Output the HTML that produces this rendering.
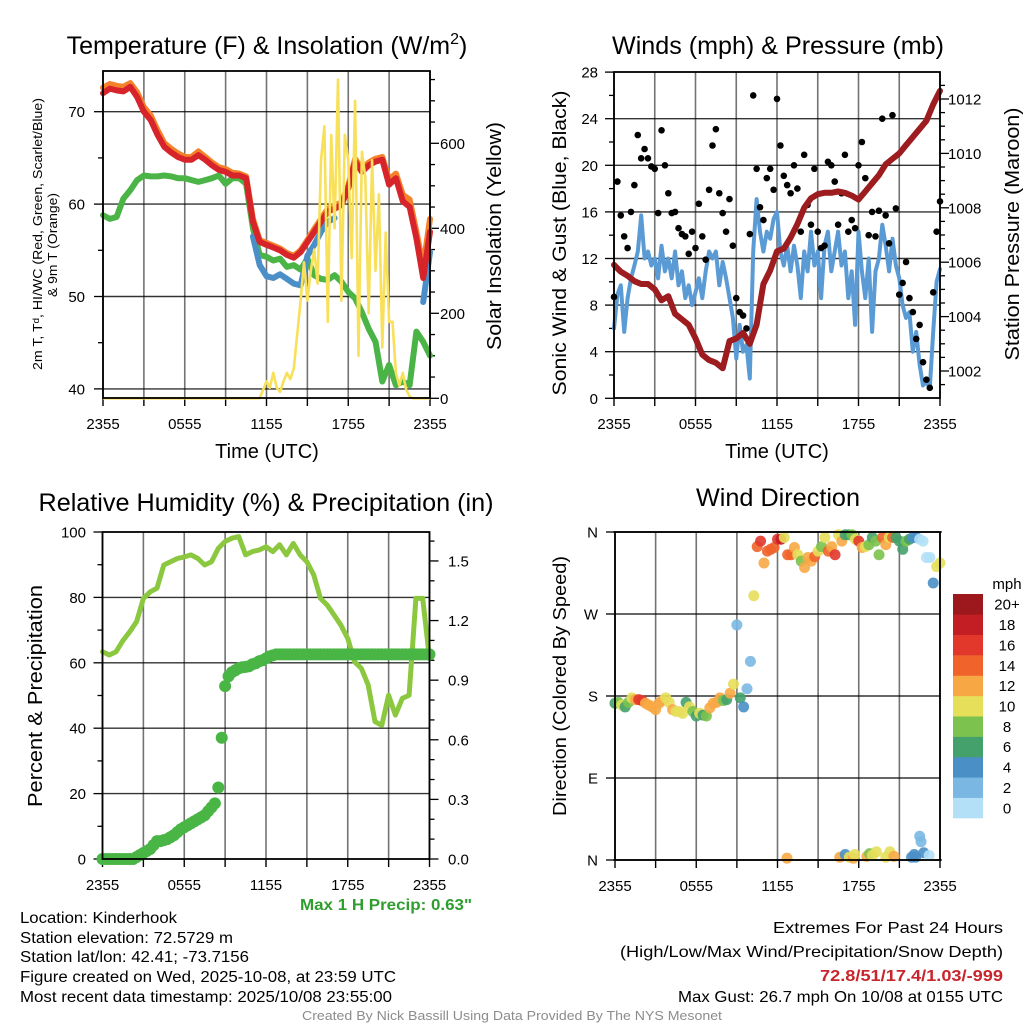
<!DOCTYPE html>
<html><head><meta charset="utf-8"><title>Kinderhook Meteogram</title>
<style>
html,body{margin:0;padding:0;background:#fff;}
svg{display:block;font-family:"Liberation Sans",Arial,sans-serif;}
</style></head>
<body>
<svg id="fig" width="1024" height="1024" viewBox="0 0 1024 1024" xmlns="http://www.w3.org/2000/svg">
<rect x="0" y="0" width="1024" height="1024" fill="#fff"/>
</svg>
<script>
// ===== DATA (half-hourly = 49 pts, quarter-hourly = 97 pts, hours 0..24 from 2355 UTC) =====
const xTickLabels = ["2355","0555","1155","1755","2355"];
const tempRed = [72.0,72.5,72.3,72.2,72.7,71.6,70.0,69.1,67.5,66.2,65.6,65.1,64.8,64.8,65.3,64.8,64.2,63.7,63.5,63.1,63.1,62.8,58.1,55.9,55.6,55.3,55.0,54.5,54.2,54.8,55.9,57.0,58.1,59.2,59.5,59.9,61.7,64.6,63.5,64.2,64.6,64.8,62.1,62.8,60.3,59.7,56.3,52.0,57.0];
const tempOrange = [72.6,73.0,72.8,72.7,73.1,72.1,70.5,69.6,68.0,66.6,66.0,65.5,65.1,65.1,65.7,65.1,64.5,64.0,63.8,63.4,63.3,63.0,58.4,56.1,55.8,55.5,55.2,54.7,54.4,55.0,56.1,57.3,58.4,59.5,59.8,60.2,62.0,64.9,63.8,64.5,64.9,65.1,62.6,63.3,61.0,60.5,57.0,53.2,58.4];
const dewGreen = [58.8,58.4,58.6,60.6,61.5,62.6,63.1,63.0,63.0,63.1,63.0,62.8,62.8,62.6,62.4,62.6,62.8,63.1,62.2,62.8,62.8,62.2,57.4,54.5,54.3,53.9,54.1,53.2,53.4,52.9,54.1,52.3,51.9,51.8,52.3,51.6,50.5,49.8,48.3,46.5,45.1,40.8,42.6,40.4,40.8,40.4,46.2,45.1,43.6];
const windChillBlue = [null,null,null,null,null,null,null,null,null,null,null,null,null,null,null,null,null,null,null,null,null,null,56.5,53.4,52.2,52.0,52.4,51.9,51.4,51.2,54.4,55.6,57.0,58.1,58.5,null,null,null,null,null,null,null,null,null,null,null,null,49.4,54.8];
const solar = [0,0,0,0,0,0,0,0,0,0,0,0,0,0,0,0,0,0,0,0,0,0,0,0,0,0,0,0,0,0,0,0,0,0,0,0,0,0,0,0,0,0,0,0,0,0,0,20,40,25,60,25,15,40,60,45,70,150,230,320,230,300,350,270,560,640,180,620,400,750,230,620,560,330,700,100,580,520,200,560,300,480,120,390,180,180,60,30,60,20,5,0,0,0,0,0,0];
const windSpeed = [6.0,8.9,9.7,5.7,8.6,10.3,11.4,12.6,15.7,12.0,12.6,11.4,12.0,10.3,13.1,10.9,12.0,10.3,12.6,9.7,10.9,8.6,9.7,8.0,9.1,10.3,8.6,10.9,12.6,12.0,12.6,9.7,11.7,10.3,8.6,6.9,3.4,6.3,4.0,4.6,1.7,12.6,17.1,14.3,12.6,14.3,13.7,15.4,16.0,12.6,11.4,13.1,10.9,13.1,11.4,8.6,12.6,10.9,14.3,11.4,12.6,8.6,13.1,14.3,10.9,12.6,14.3,11.4,12.6,8.6,10.9,6.3,14.3,10.9,8.6,12.0,5.7,10.9,12.0,14.9,13.1,10.9,13.7,11.4,10.3,8.0,6.9,7.4,4.0,5.7,2.9,1.1,1.4,0.9,5.7,10.0,11.1];
const gust = [8.7,18.6,15.7,13.9,12.9,16.0,18.3,22.6,20.6,21.4,20.6,19.9,19.7,15.9,23.0,20.0,17.6,15.9,16.0,14.6,14.1,13.9,12.4,14.3,12.9,16.7,13.9,11.9,17.9,21.7,23.1,17.6,15.9,14.3,17.1,13.1,8.6,7.4,7.1,6.0,14.1,26.0,19.7,16.4,15.3,18.9,19.7,17.9,25.7,21.7,19.1,18.3,17.6,20.0,18.0,14.3,20.9,16.6,14.9,19.7,14.3,12.9,13.1,20.3,20.0,18.6,14.9,17.6,20.9,14.3,15.3,14.6,20.0,22.0,18.9,14.0,16.0,13.9,16.1,24.0,15.7,13.3,24.3,16.3,8.9,9.9,11.7,8.6,7.4,5.1,6.3,3.1,1.6,0.9,9.1,14.3,16.9];
const pressure = [1005.9,1005.65,1005.5,1005.3,1005.2,1005.2,1005.0,1004.6,1004.75,1004.1,1003.9,1003.7,1003.2,1002.6,1002.4,1002.3,1002.1,1003.1,1003.2,1003.4,1003.0,1003.7,1005.2,1005.7,1006.4,1006.5,1006.9,1007.4,1008.0,1008.35,1008.5,1008.55,1008.55,1008.6,1008.55,1008.45,1008.3,1008.6,1008.9,1009.2,1009.6,1009.8,1010.0,1010.3,1010.6,1010.9,1011.2,1011.8,1012.3];
const rh = [63.4,62.4,63.4,66.8,69.5,72.6,79.7,81.7,82.8,89.9,90.9,91.9,92.4,93.0,91.9,89.9,90.9,95.0,97.1,98.1,98.6,93.0,94.0,94.5,95.5,94.0,96.1,93.0,96.5,93.0,90.9,86.9,79.7,77.6,74.6,71.5,67.4,60.3,58.3,53.2,42.0,40.9,50.1,44.0,49.1,50.1,79.7,79.7,61.3];
const precip = [0,0,0,0,0,0,0,0,0,0,0.01,0.02,0.03,0.04,0.05,0.07,0.09,0.09,0.095,0.1,0.11,0.12,0.135,0.15,0.16,0.17,0.18,0.19,0.2,0.21,0.22,0.24,0.26,0.28,0.36,0.61,0.87,0.92,0.94,0.95,0.96,0.965,0.967,0.97,0.98,0.985,0.995,1.0,1.01,1.02,1.025,1.03,1.03,1.03,1.03,1.03,1.03,1.03,1.03,1.03,1.03,1.03,1.03,1.03,1.03,1.03,1.03,1.03,1.03,1.03,1.03,1.03,1.03,1.03,1.03,1.03,1.03,1.03,1.03,1.03,1.03,1.03,1.03,1.03,1.03,1.03,1.03,1.03,1.03,1.03,1.03,1.03,1.03,1.03,1.03,1.03,1.03];
const windDir = [172,173,170,168,173,178,176,176,175,172,170,168,165,172,175,178,173,165,163,163,161,173,168,163,158,161,159,158,167,172,173,178,175,176,183,193,258,178,168,188,218,290,344,350,326,339,341,343,352,352,354,335,335,343,335,328,321,332,328,333,339,344,354,339,344,335,357,350,357,357,357,352,350,343,344,346,354,350,335,354,346,354,354,354,350,341,350,352,354,354,352,350,332,332,304,322,326];
const windDirSpeed = [6,8,10,6,8,10,12,16,16,12,12,12,12,12,12,10,10,12,10,10,10,6,10,8,6,10,6,8,12,12,12,12,8,6,12,10,2,6,4,2,2,10,14,16,12,14,14,14,16,18,10,14,14,12,10,8,12,12,12,14,10,8,10,14,12,16,10,12,6,6,8,10,16,12,10,8,6,8,8,14,12,10,14,6,6,6,8,6,4,4,0,0,0,0,4,10,10];
const extraDirHour = [12.7,16.6,17.0,17.3,17.6,17.7,18.6,18.8,19.0,19.3,20.0,20.3,20.6,21.9,22.1,22.2,22.5,22.6,22.8,23.2];
const extraDir = [2,3,6,3,2,6,4,7,5,9,3,9,4,3,6,3,26,20,8,5];
const extraDirSpeed = [12,12,4,10,12,10,12,8,10,10,10,10,12,4,4,4,2,2,4,0];
const cbarLabels = ["0","2","4","6","8","10","12","14","16","18","20+"];
const cbarColors = ["#b3e0f7","#7ab8e3","#4a8fc6","#45a16c","#7bc24e","#e6df5a","#f7a845","#f0642b","#e2382c","#c41e25","#9c181c"];

// ===== helpers =====
const NS="http://www.w3.org/2000/svg";
const svg=document.getElementById('fig');
function mk(tag,attrs,parent){const e=document.createElementNS(NS,tag);for(const k in attrs)e.setAttribute(k,attrs[k]);(parent||svg).appendChild(e);return e;}
function txt(s,attrs,parent){const e=mk('text',attrs,parent);e.textContent=s;return e;}
function hOf(i,n){return i*24/(n-1);}
function pathFrom(arr,xf,yf,n){let d='',pen=false;arr.forEach((v,i)=>{if(v===null){pen=false;return;}const x=xf(hOf(i,n)),y=yf(v);d+=(pen?'L':'M')+x.toFixed(1)+' '+y.toFixed(1);pen=true;});return d;}
function colorFor(s){let idx=Math.min(10,Math.floor(s/2+0.0001));return cbarColors[idx];}

function frame(g,x0,y0,x1,y1,xf){
  for(let h=0;h<=24;h+=3){
    const x=xf(h);
    const gl=mk('line',{x1:x,y1:y0,x2:x,y2:y1,stroke:'#000','stroke-width':1.6,'stroke-opacity':0.55},g);
    
    
    const tk=mk('line',{x1:x,y1:y1,x2:x,y2:y1+8,stroke:'#000','stroke-width':1.4},g);
    
    
    if(h%6===0){
      const lb=txt(xTickLabels[h/6],{x:x,y:y1+31,'font-size':15,'text-anchor':'middle',fill:'#000'},g);
      
      
    }
  }
}
function border(g,x0,y0,x1,y1){
  const r=mk('rect',{x:x0,y:y0,width:x1-x0,height:y1-y0,fill:'none',stroke:'#000','stroke-width':1.8},g);
  
  
}
function hgrid(g,x0,x1,y){
  const l=mk('line',{x1:x0,y1:y,x2:x1,y2:y,stroke:'#000','stroke-width':1.4,'stroke-opacity':0.8},g);
  
  
}
function ytick(g,x,y,len,label,anchorX,anchor){
  const t=mk('line',{x1:x,y1:y,x2:x+len,y2:y,stroke:'#000','stroke-width':1.3},g);
  
  
  if(label!==null){
    const lb=txt(label,{x:anchorX,y:y+5.5,'font-size':15,'text-anchor':anchor,fill:'#000'},g);
    
    
  }
}
function vlabel(g,s,x,y,size,len,name){
  const t=txt(s,{x:x,y:y,'font-size':size,'text-anchor':'middle',transform:'rotate(-90 '+x+' '+y+')',fill:'#000',textLength:len,lengthAdjust:'spacingAndGlyphs'},g);
  
  
  return t;
}
function title(g,s,x,y,len,name){
  const t=txt(s,{x:x,y:y,'font-size':25,'text-anchor':'middle',fill:'#000',textLength:len,lengthAdjust:'spacingAndGlyphs'},g);
  
  
  return t;
}

// ===== PANEL 1: Temperature & Insolation =====
(function(){
  const g=mk('g',{});
  
  
  const X0=103,X1=430,Y0=71,Y1=398;
  const xf=h=>X0+h*(X1-X0)/24;
  const yT=t=>111.7+(70-t)*9.24;
  const yS=w=>398.3-w*0.425;
  const t1=mk('text',{x:267,y:54,'font-size':25,'text-anchor':'middle',fill:'#000'},g);
  
  
  t1.textContent='Temperature (F) & Insolation (W/m';
  const sup=mk('tspan',{'font-size':16,dy:-10},t1);sup.textContent='2';
  const sup2=mk('tspan',{dy:10},t1);sup2.textContent=')';
  frame(g,X0,Y0,X1,Y1,xf);
  [40,50,60,70].forEach(v=>{hgrid(g,X0,X1,yT(v));ytick(g,X0-9,yT(v),9,String(v),85,'end');});
  [45,55,65].forEach(v=>ytick(g,X0-5,yT(v),5,null));
  for(let w=0;w<=750;w+=50){const maj=w%200===0;ytick(g,X1,yS(w),maj?9:5,maj?String(w):null,440,'start');}
  const sd=mk('path',{d:pathFrom(dewGreen,xf,yT,49),fill:'none',stroke:'#4bb446','stroke-width':6,'stroke-linejoin':'round','stroke-linecap':'round'},g);
  
  
  const sb=mk('path',{d:pathFrom(windChillBlue,xf,yT,49),fill:'none',stroke:'#4b8fc8','stroke-width':6,'stroke-linejoin':'round','stroke-linecap':'round'},g);
  
  
  const so=mk('path',{d:pathFrom(tempOrange,xf,yT,49),fill:'none',stroke:'#f5822a','stroke-width':6,'stroke-linejoin':'round','stroke-linecap':'round'},g);
  
  
  const sr=mk('path',{d:pathFrom(tempRed,xf,yT,49),fill:'none',stroke:'#d7242a','stroke-width':6,'stroke-linejoin':'round','stroke-linecap':'round'},g);
  
  
  const sy=mk('path',{d:pathFrom(solar,xf,yS,97),fill:'none',stroke:'#f8e05a','stroke-width':2.6,'stroke-linejoin':'round'},g);
  
  
  border(g,X0,Y0,X1,Y1);
  vlabel(g,'2m T, T\u1D48, HI/WC (Red, Green, Scarlet/Blue)',42,234,13,272,'left-axis-title-line1');
  vlabel(g,'& 9m T (Orange)',57,245,13,104,'left-axis-title-line2');
  vlabel(g,'Solar Insolation (Yellow)',501,236,20,228,'right-axis-title');
  const tx=txt('Time (UTC)',{x:267,y:458,'font-size':20,'text-anchor':'middle',fill:'#000'},g);
  
  
})();

// ===== PANEL 2: Winds & Pressure =====
(function(){
  const g=mk('g',{});
  
  
  const X0=614,X1=940,Y0=72,Y1=398;
  const xf=h=>X0+h*(X1-X0)/24;
  const yW=m=>398.3-m*11.65;
  const yP=p=>99+(1012-p)*27.2;
  title(g,'Winds (mph) & Pressure (mb)',778,54,332,'winds-title');
  frame(g,X0,Y0,X1,Y1,xf);
  for(let v=0;v<=28;v+=4){if(v>0&&v<28)hgrid(g,X0,X1,yW(v));ytick(g,X0-9,yW(v),9,String(v),598,'end');}
  for(let v=2;v<28;v+=4)ytick(g,X0-5,yW(v),5,null);
  for(let p=1001;p<=1012.5;p+=0.5){const maj=(p%2===0);if(yP(p)<Y0||yP(p)>Y1)continue;ytick(g,X1,yP(p),maj?9:5,maj?String(p):null,948,'start');}
  const sw=mk('path',{d:pathFrom(windSpeed,xf,yW,97),fill:'none',stroke:'#5b9bd5','stroke-width':4,'stroke-linejoin':'round','stroke-linecap':'round'},g);
  
  
  gust.forEach((v,i)=>{
    const c=mk('circle',{cx:xf(hOf(i,97)),cy:yW(v),r:3.3,fill:'#000'},g);
    
    
  });
  const sp=mk('path',{d:pathFrom(pressure,xf,yP,49),fill:'none',stroke:'#9c1c1f','stroke-width':6,'stroke-linejoin':'round','stroke-linecap':'round'},g);
  
  
  border(g,X0,Y0,X1,Y1);
  vlabel(g,'Sonic Wind & Gust (Blue, Black)',566,243,19,305,'left-axis-title');
  vlabel(g,'Station Pressure (Maroon)',1019,234,20,253,'right-axis-title');
  const tx=txt('Time (UTC)',{x:777,y:458,'font-size':20,'text-anchor':'middle',fill:'#000'},g);
  
  
})();

// ===== PANEL 3: RH & Precip =====
(function(){
  const g=mk('g',{});
  
  
  const X0=102.5,X1=429.5,Y0=532,Y1=859;
  const xf=h=>X0+h*(X1-X0)/24;
  const yR=r=>859-r*3.27;
  const yPr=p=>859-p*198.7;
  title(g,'Relative Humidity (%) & Precipitation (in)',266,511,455,'humidity-title');
  frame(g,X0,Y0,X1,Y1,xf);
  for(let v=0;v<=100;v+=20){if(v>0&&v<100)hgrid(g,X0,X1,yR(v));ytick(g,X0-9,yR(v),9,String(v),86,'end');}
  for(let v=10;v<100;v+=20)ytick(g,X0-5,yR(v),5,null);
  for(let k=0;k<=16;k++){const p=k/10;const maj=k%3===0;ytick(g,X1,yPr(p),maj?9:5,maj?p.toFixed(1):null,448,'start');}
  const sr=mk('path',{d:pathFrom(rh,xf,yR,49),fill:'none',stroke:'#8cc83f','stroke-width':5,'stroke-linejoin':'round','stroke-linecap':'round'},g);
  
  
  precip.forEach((v,i)=>{
    const c=mk('circle',{cx:xf(hOf(i,97)),cy:yPr(v),r:6,fill:'#49b545'},g);
    
    
  });
  border(g,X0,Y0,X1,Y1);
  vlabel(g,'Percent & Precipitation',42,696,20,222,'left-axis-title');
  const mp=txt('Max 1 H Precip: 0.63"',{x:472,y:910,'font-size':16,'font-weight':'bold','text-anchor':'end',fill:'#2f9e2f',textLength:172,lengthAdjust:'spacingAndGlyphs'},g);
  
  
})();

// ===== PANEL 4: Wind Direction =====
(function(){
  const g=mk('g',{});
  
  
  const X0=615,X1=940,Y0=532,Y1=860;
  const xf=h=>X0+h*(X1-X0)/24;
  const yD=d=>860-d*328/360;
  title(g,'Wind Direction',778,506,164,'wind-direction-title');
  frame(g,X0,Y0,X1,Y1,xf);
  const dl=['N','E','S','W','N'];
  [0,90,180,270,360].forEach((d,k)=>{if(d>0&&d<360)hgrid(g,X0,X1,yD(d));else hgrid(g,X0-2,X1+2,yD(d));ytick(g,X0-9,yD(d),9,dl[k],598,'end');});
  windDir.forEach((d,i)=>{
    const c=mk('circle',{cx:xf(hOf(i,97)),cy:yD(d),r:5.5,fill:colorFor(windDirSpeed[i]),'fill-opacity':0.9},g);
    
    
  });
  extraDir.forEach((d,i)=>{
    const c=mk('circle',{cx:xf(extraDirHour[i]),cy:yD(d),r:5.5,fill:colorFor(extraDirSpeed[i]),'fill-opacity':0.9},g);
    
    
  });
  border(g,X0,Y0,X1,Y1);
  vlabel(g,'Direction (Colored By Speed)',566,686,18,260,'left-axis-title');
  const cb=mk('g',{},g);
  
  
  const mph=txt('mph',{x:1007,y:589,'font-size':15,'text-anchor':'middle',fill:'#000'},cb);
  
  
  const bh=(818-594)/11;
  cbarColors.forEach((c,i)=>{
    const y=818-(i+1)*bh;
    const r=mk('rect',{x:953,y:y,width:30,height:bh+0.3,fill:c},cb);
    
    
    const l=txt(cbarLabels[i],{x:1007,y:y+bh/2+5.5,'font-size':15,'text-anchor':'middle',fill:'#000'},cb);
    
    
  });
})();

// ===== footer text =====
(function(){
  const g=mk('g',{});
  
  
  const lines=[['Location: Kinderhook',923,157],['Station elevation: 72.5729 m',943,213],['Station lat/lon: 42.41; -73.7156',962,229],['Figure created on Wed, 2025-10-08, at 23:59 UTC',982,376],['Most recent data timestamp: 2025/10/08 23:55:00',1002,372]];
  lines.forEach(L=>{
    const t=txt(L[0],{x:20,y:L[1],'font-size':15.5,fill:'#000',textLength:L[2],lengthAdjust:'spacingAndGlyphs'},g);
    
    
  });
  const g2=mk('g',{});
  
  
  const r=[['Extremes For Past 24 Hours',933,230,'#000','normal'],['(High/Low/Max Wind/Precipitation/Snow Depth)',957,383,'#000','normal'],['72.8/51/17.4/1.03/-999',981,183,'#c8252c','bold'],['Max Gust: 26.7 mph On 10/08 at 0155 UTC',1002,325,'#000','normal']];
  r.forEach(L=>{
    const t=txt(L[0],{x:1003,y:L[1],'font-size':16,'text-anchor':'end',fill:L[3],'font-weight':L[4],textLength:L[2],lengthAdjust:'spacingAndGlyphs'},g2);
    
    
  });
  const f=txt('Created By Nick Bassill Using Data Provided By The NYS Mesonet',{x:512,y:1020,'font-size':12.5,'text-anchor':'middle',fill:'#8c8c8c',textLength:420,lengthAdjust:'spacingAndGlyphs'});
  
  
})();
</script>
</body></html>
